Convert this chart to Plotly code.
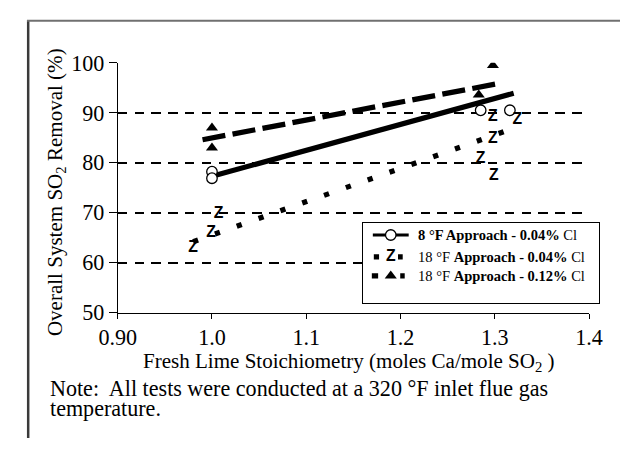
import plotly.graph_objects as go

# The plot div sits inside the page's default 8px body margin; the photographed
# picture maps page pixels to picture pixels as  pic = A + S * page  (measured).
PAGE_W, PAGE_H, OFF = 642, 459, 8
W, H = PAGE_W - 2 * OFF, PAGE_H - 2 * OFF
SX, AX = 0.9505, 17.4
SY, AY = 0.948, 10.4
K = 1 / SX  # size compensation

# ---------------- data ----------------
x_ticks = [0.9, 1.0, 1.1, 1.2, 1.3, 1.4]
x_ticklabels = ["0.90", "1.0", "1.1", "1.2", "1.3", "1.4"]
y_ticks = [50, 60, 70, 80, 90, 100]

s1_label = "<b>8 °F Approach - 0.04%</b> Cl"
s1_x = [1.0, 1.0, 1.285, 1.316]
s1_y = [78.2, 76.9, 90.5, 90.5]
s1_fit_x = [1.0, 1.32]
s1_fit_y = [77.3, 93.9]

s2_label = "18 °F <b>Approach - 0.04%</b> Cl"
s2_x = [0.98, 0.999, 1.007, 1.285, 1.298, 1.298, 1.299, 1.324]
s2_y = [63.0, 66.0, 69.7, 80.8, 84.8, 89.1, 77.3, 88.6]
s2_fit_x = [0.98, 1.32]
s2_fit_y = [64.2, 86.9]

s3_label = "18 °F <b>Approach - 0.12%</b> Cl"
s3_x = [1.0, 1.0, 1.283, 1.298]
s3_y = [87.0, 83.0, 93.6, 99.5]
s3_fit_x = [0.99, 1.305]
s3_fit_y = [84.6, 95.9]

x_title = "Fresh Lime Stoichiometry (moles Ca/mole SO<sub>2</sub> )"
y_title = "Overall System SO<sub>2</sub> Removal (%)"
note_1 = "Note:  All tests were conducted at a 320 °F inlet flue gas"
note_2 = "temperature."

# ---------------- layout helpers ----------------
SERIF = "Liberation Serif, Times New Roman, serif"


def px(o):
    """picture pixel x -> paper fraction"""
    page = (o - AX) / SX
    return (page - OFF) / W


def py(o):
    """picture pixel y -> paper fraction"""
    page = (o - AY) / SY
    return 1 - (page - OFF) / H


def s(v):
    return round(v * K, 2)


Z_GLYPH = "<b>Z</b>"
Z_FONT = dict(family="Liberation Sans, Arial, sans-serif", size=s(15), color="black")
CIRCLE = dict(symbol="circle", size=s(10), color="white", line=dict(color="black", width=1.3))
TRIANGLE = dict(symbol="triangle-up", size=s(10), color="black")
LW = s(5)

fig = go.Figure()

# fitted lines
fig.add_trace(go.Scatter(x=s1_fit_x, y=s1_fit_y, mode="lines",
                         line=dict(color="black", width=LW), showlegend=False))
fig.add_trace(go.Scatter(x=s2_fit_x, y=s2_fit_y, mode="lines",
                         line=dict(color="black", width=LW, dash=f"{s(5)}px,{s(17)}px"),
                         showlegend=False))
fig.add_trace(go.Scatter(x=s3_fit_x, y=s3_fit_y, mode="lines",
                         line=dict(color="black", width=LW, dash=f"{s(22)}px,{s(7)}px"),
                         showlegend=False))

# measured points
fig.add_trace(go.Scatter(x=s1_x, y=s1_y, mode="markers", showlegend=False, marker=CIRCLE))
fig.add_trace(go.Scatter(x=s2_x, y=s2_y, mode="text", text=[Z_GLYPH] * len(s2_x),
                         textposition="middle center", textfont=Z_FONT, showlegend=False))
fig.add_trace(go.Scatter(x=s3_x, y=s3_y, mode="markers", showlegend=False, marker=TRIANGLE))

# ---------------- legend (inset subplot, units = picture pixels) ----------------
LX0, LX1, LY0, LY1 = 362, 599, 222, 302
rows = [12, 34, 53]
fig.add_trace(go.Scatter(x=[10, 46], y=[rows[0], rows[0]], mode="lines", xaxis="x2", yaxis="y2",
                         line=dict(color="black", width=s(3)), showlegend=False))
fig.add_trace(go.Scatter(x=[28], y=[rows[0]], mode="markers", xaxis="x2", yaxis="y2",
                         showlegend=False, marker=CIRCLE))
fig.add_trace(go.Scatter(x=[11, 40], y=[rows[1], rows[1]], mode="lines", xaxis="x2", yaxis="y2",
                         line=dict(color="black", width=LW, dash=f"{s(5)}px,{s(18)}px"),
                         showlegend=False))
fig.add_trace(go.Scatter(x=[28], y=[rows[1]], mode="text", text=[Z_GLYPH], xaxis="x2", yaxis="y2",
                         textposition="middle center", textfont=Z_FONT, showlegend=False))
fig.add_trace(go.Scatter(x=[9, 42], y=[rows[2], rows[2]], mode="lines", xaxis="x2", yaxis="y2",
                         line=dict(color="black", width=LW, dash=f"{s(6)}px,{s(21)}px"),
                         showlegend=False))
fig.add_trace(go.Scatter(x=[28], y=[rows[2]], mode="markers", xaxis="x2", yaxis="y2",
                         showlegend=False, marker=TRIANGLE))

annotations = []
for r, lab in zip(rows, [s1_label, s2_label, s3_label]):
    annotations.append(dict(x=53, y=r, xref="x2", yref="y2", text=lab, showarrow=False,
                            xanchor="left", yanchor="middle",
                            font=dict(family=SERIF, size=s(13.8), color="black")))

annotations += [
    dict(x=px(348), y=py(362), xref="paper", yref="paper", text=x_title, showarrow=False,
         xanchor="center", yanchor="middle", font=dict(family=SERIF, size=s(20), color="black")),
    dict(x=px(54), y=py(191), xref="paper", yref="paper", text=y_title, showarrow=False,
         textangle=-90, xanchor="center", yanchor="middle",
         font=dict(family=SERIF, size=s(20), color="black")),
    dict(x=px(46), y=py(388), xref="paper", yref="paper", text=note_1, showarrow=False,
         xanchor="left", yanchor="middle", font=dict(family=SERIF, size=s(21), color="black")),
    dict(x=px(46), y=py(408), xref="paper", yref="paper", text=note_2, showarrow=False,
         xanchor="left", yanchor="middle", font=dict(family=SERIF, size=s(21), color="black")),
]

shapes = [
    dict(type="line", xref="paper", yref="paper", x0=0.002, x1=0.002, y0=0, y1=1,
         line=dict(color="#3a3a3a", width=2.5)),
    dict(type="line", xref="paper", yref="paper", x0=0, x1=1, y0=0.998, y1=0.998,
         line=dict(color="#707070", width=2)),
]

fig.update_layout(
    width=W, height=H, autosize=False,
    margin=dict(l=0, r=0, t=0, b=0),
    paper_bgcolor="white", plot_bgcolor="white",
    showlegend=False,
    font=dict(family=SERIF, color="black"),
    xaxis=dict(domain=[px(116), px(589)], range=[0.9, 1.4], tickvals=x_ticks, ticktext=x_ticklabels,
               showgrid=False, zeroline=False, showline=True, linecolor="black", linewidth=1,
               ticks="outside", ticklen=5, tickwidth=1, tickcolor="black",
               tickfont=dict(family=SERIF, size=s(21), color="black"), anchor="y"),
    yaxis=dict(domain=[py(312), py(61)], range=[50, 100], tickvals=y_ticks,
               showgrid=True, gridcolor="black", gridwidth=s(2), griddash=f"{s(9)}px,{s(7)}px",
               zeroline=False, showline=True, linecolor="black", linewidth=1,
               ticks="outside", ticklen=8, tickwidth=1, tickcolor="black",
               tickfont=dict(family=SERIF, size=s(21), color="black"), anchor="x"),
    xaxis2=dict(domain=[px(LX0), px(LX1)], range=[0, LX1 - LX0], anchor="y2",
                showgrid=False, zeroline=False, showticklabels=False, ticks="",
                showline=True, mirror=True, linecolor="black", linewidth=1, fixedrange=True),
    yaxis2=dict(domain=[py(LY1), py(LY0)], range=[LY1 - LY0, 0], anchor="x2",
                showgrid=False, zeroline=False, showticklabels=False, ticks="",
                showline=True, mirror=True, linecolor="black", linewidth=1, fixedrange=True),
    annotations=annotations,
    shapes=shapes,
)

fig.write_html("out.html", config={"displayModeBar": False})
